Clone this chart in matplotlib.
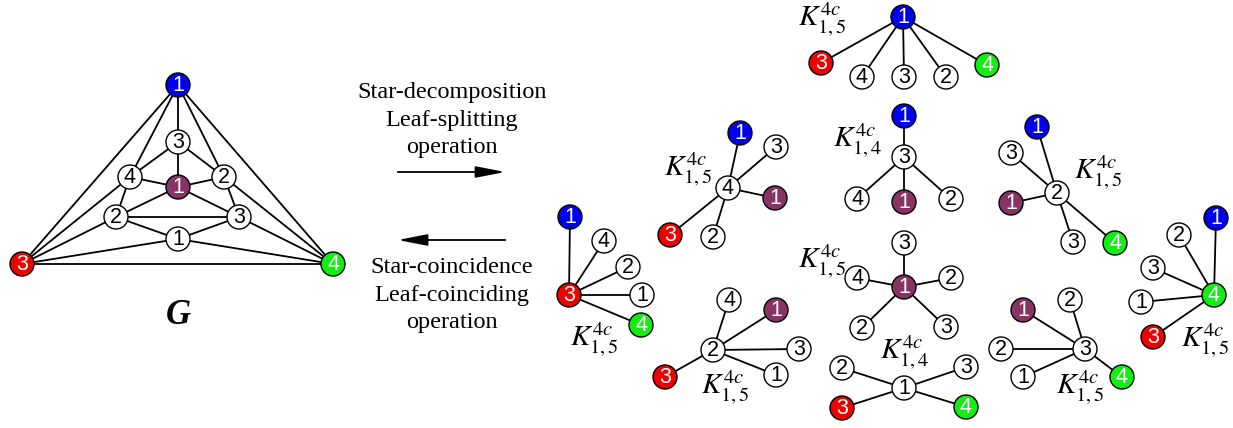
import matplotlib
matplotlib.use("Agg")
from matplotlib import pyplot as plt
from matplotlib.patches import Circle

plt.rcParams['mathtext.fontset'] = 'stix'

# colour keys for vertices
colors = {'b': '#0000ee', 'r': '#ee0000', 'g': '#11ee11', 'p': '#883366', 'w': 'white'}

# graph G: vertex labels / colour keys / positions (pixels)
g_labels = ['1', '3', '4', '1', '2', '2', '3', '1', '3', '4']
g_colors = ['b', 'w', 'w', 'p', 'w', 'w', 'w', 'w', 'r', 'g']
g_pos = [(178, 85), (178, 142), (130, 177), (178, 187), (224, 177),
         (116, 217), (239, 217), (178, 239), (22, 264), (333, 264)]
g_edges = [(0, 8), (0, 9), (8, 9), (0, 1), (0, 2), (0, 4),
           (1, 2), (1, 3), (1, 4), (2, 3), (2, 5), (4, 3), (4, 6),
           (3, 5), (3, 6), (5, 6), (5, 7), (6, 7),
           (8, 2), (8, 5), (8, 7), (9, 4), (9, 6), (9, 7)]

# stars: centre, leaves, label
star_centers = [('1', 'b'), ('4', 'w'), ('3', 'r'), ('2', 'w'), ('3', 'w'),
                ('1', 'p'), ('1', 'w'), ('2', 'w'), ('3', 'w'), ('4', 'g')]
star_center_pos = [(903, 17), (728, 188), (569, 295), (713, 350), (904, 157),
                   (904, 287), (904, 388), (1057, 193), (1085, 349), (1214, 295)]
star_leaves = [
    [('3', 'r'), ('4', 'w'), ('3', 'w'), ('2', 'w'), ('4', 'g')],
    [('1', 'b'), ('3', 'w'), ('1', 'p'), ('2', 'w'), ('3', 'r')],
    [('1', 'b'), ('4', 'w'), ('2', 'w'), ('1', 'w'), ('4', 'g')],
    [('4', 'w'), ('1', 'p'), ('3', 'w'), ('1', 'w'), ('3', 'r')],
    [('1', 'b'), ('4', 'w'), ('1', 'p'), ('2', 'w')],
    [('3', 'w'), ('2', 'w'), ('3', 'w'), ('4', 'w'), ('2', 'w')],
    [('3', 'w'), ('4', 'g'), ('2', 'w'), ('3', 'r')],
    [('1', 'b'), ('3', 'w'), ('1', 'p'), ('3', 'w'), ('4', 'g')],
    [('1', 'p'), ('2', 'w'), ('2', 'w'), ('1', 'w'), ('4', 'g')],
    [('1', 'b'), ('2', 'w'), ('3', 'w'), ('1', 'w'), ('3', 'r')],
]
star_leaf_pos = [
    [(821, 63), (862, 77), (904, 77), (946, 77), (987, 65)],
    [(740, 133), (776, 147), (775, 198), (713, 237), (670, 235)],
    [(570, 217), (604, 241), (628, 267), (642, 295), (641, 325)],
    [(729, 300), (776, 310), (799, 349), (776, 375), (665, 377)],
    [(904, 116), (857, 199), (904, 202), (951, 199)],
    [(904, 243), (951, 278), (946, 327), (857, 278), (862, 328)],
    [(966, 367), (966, 407), (842, 368), (842, 408)],
    [(1037, 127), (1011, 153), (1011, 203), (1073, 242), (1115, 243)],
    [(1023, 310), (1070, 300), (1001, 349), (1023, 377), (1122, 377)],
    [(1216, 218), (1179, 235), (1153, 268), (1141, 302), (1153, 337)],
]
star_names = ['$K^{4c}_{1,5}$', '$K^{4c}_{1,5}$', '$K^{4c}_{1,5}$', '$K^{4c}_{1,5}$',
              '$K^{4c}_{1,4}$', '$K^{4c}_{1,5}$', '$K^{4c}_{1,4}$', '$K^{4c}_{1,5}$',
              '$K^{4c}_{1,5}$', '$K^{4c}_{1,5}$']
star_name_pos = [(822, 20), (688, 170), (594, 340), (725, 388), (858, 141),
                 (822, 262), (905, 353), (1098, 173), (1080, 388), (1205, 341)]

fig = plt.figure(figsize=(12.33, 4.28), dpi=100)
ax = fig.add_axes([0, 0, 1, 1])
ax.set_xlim(0, 1233)
ax.set_ylim(428, 0)
ax.axis('off')

R = 12


def vertex(xy, label, ckey):
    ax.add_patch(Circle(xy, R, facecolor=colors[ckey], edgecolor='black', lw=1.0, zorder=3))
    tc = 'black' if ckey == 'w' else 'white'
    ax.text(xy[0], xy[1] + 0.5, label, ha='center', va='center', fontsize=15.5,
            family='Liberation Sans', color=tc, zorder=4)


def edge(p, q):
    ax.plot([p[0], q[0]], [p[1], q[1]], color='black', lw=1.3, zorder=1)


# graph G
for i, j in g_edges:
    edge(g_pos[i], g_pos[j])
for lab, ck, p in zip(g_labels, g_colors, g_pos):
    vertex(p, lab, ck)
ax.text(178, 316, 'G', ha='center', va='center', fontsize=25, family='Liberation Serif',
        style='italic', weight='bold')

# operation texts and arrows
ax.text(452, 120, 'Star-decomposition\nLeaf-splitting\noperation', ha='center', va='center',
        fontsize=17.5, family='Liberation Serif', linespacing=1.4)
ax.text(452, 295, 'Star-coincidence\nLeaf-coinciding\noperation', ha='center', va='center',
        fontsize=17.5, family='Liberation Serif', linespacing=1.4)
ax.annotate('', xy=(508, 172), xytext=(395, 172),
            arrowprops=dict(arrowstyle='-|>,head_length=1.8,head_width=0.35', color='black', lw=1.3))
ax.annotate('', xy=(395, 240), xytext=(508, 240),
            arrowprops=dict(arrowstyle='-|>,head_length=1.8,head_width=0.35', color='black', lw=1.3))

# stars
for c, cp, leaves, lps, name, npos in zip(star_centers, star_center_pos, star_leaves,
                                          star_leaf_pos, star_names, star_name_pos):
    for lp in lps:
        edge(cp, lp)
    vertex(cp, c[0], c[1])
    for (lab, ck), lp in zip(leaves, lps):
        vertex(lp, lab, ck)
    ax.text(npos[0], npos[1], name, ha='center', va='center', fontsize=21)

fig.savefig('out.png', dpi=100)
